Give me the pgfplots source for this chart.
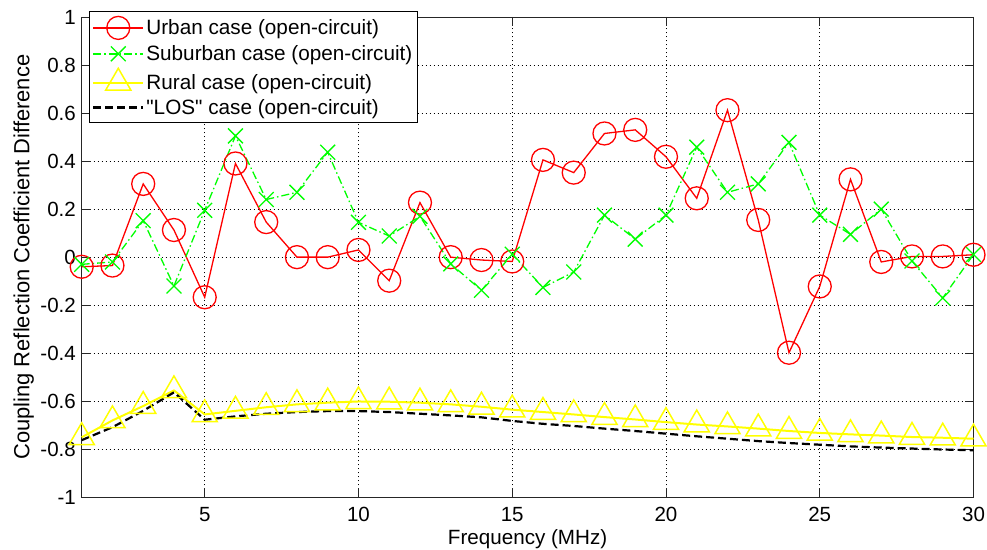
\documentclass[border=0pt]{standalone}
\usepackage{fontspec}
\setmainfont{Liberation Sans}
\usepackage{pgfplots}
\pgfplotsset{compat=1.18}
\definecolor{mred}{rgb}{1,0,0}
\definecolor{mgreen}{rgb}{0,1,0}
\definecolor{myellow}{rgb}{1,1,0}
\newcommand{\sq}{{\XeTeXglyph\XeTeXcharglyph"0022\relax}}
\begin{document}
\begin{tikzpicture}
\begin{axis}[name=ax, scale only axis, width=891.8bp, height=480.3bp,
  xmin=1, xmax=30, ymin=-1, ymax=1,
  xtick={5,10,15,20,25,30}, xticklabels={5,10,15,20,25,30},
  ytick={-1,-0.8,-0.6,-0.4,-0.2,0,0.2,0.4,0.6,0.8,1},
  yticklabels={-1,-0.8,-0.6,-0.4,-0.2,0,0.2,0.4,0.6,0.8,1},
  grid=major,
  major grid style={black, line width=0.6bp, dash pattern=on 1bp off 3bp},
  tick align=inside, major tick length=9bp,
  tick style={black!85, line width=0.8bp},
  axis line style={black!85, line width=0.8bp},
  tick label style={font=\fontsize{20.6}{24}\selectfont},
  xticklabel style={inner sep=0pt, yshift=-9.7bp},
  yticklabel style={inner sep=0pt, xshift=-5.7bp},
  xlabel={Frequency (MHz)},
  ylabel={Coupling Reflection Coefficient Difference},
  xlabel style={at={(axis description cs:0.5,0)}, anchor=north, yshift=-32bp, inner sep=0pt, font=\fontsize{20.7}{24}\selectfont},
  ylabel style={at={(axis description cs:-0.0587,0.5)}, anchor=base, inner sep=0pt, font=\fontsize{22}{26}\selectfont},
  clip=false,
  legend cell align=left,
  legend image code/.code={\draw[mark repeat=2,mark phase=2] plot coordinates {(0bp,0bp)(25bp,0bp)(50bp,0bp)};},
  legend style={at={(axis description cs:0.0085,1.0125)}, anchor=north west,
    draw=black, line width=0.8bp, fill=white, inner xsep=2.5bp, inner ysep=5bp, row sep=4.2bp,
    font=\fontsize{20.8}{25}\selectfont,
    nodes={inner sep=2bp}},
]
\addplot[mred, line width=1.3bp, mark=o, mark size=11.5bp, mark options={solid, line width=1.3bp}] coordinates {
(1,-0.04)(2,-0.035)(3,0.305)(4,0.113)(5,-0.167)(6,0.39)(7,0.146)(8,0.0)(9,0.0)(10,0.03)
(11,-0.098)(12,0.227)(13,0.0)(14,-0.012)(15,-0.018)(16,0.405)(17,0.352)(18,0.515)(19,0.53)(20,0.418)
(21,0.245)(22,0.612)(23,0.155)(24,-0.398)(25,-0.122)(26,0.324)(27,-0.02)(28,0.003)(29,0.003)(30,0.01)};
\addlegendentry{Urban case (open-circuit)}
\addplot[mgreen, line width=1.3bp, dash pattern=on 8bp off 3bp on 1.5bp off 3bp, mark=x, mark size=10.5bp, mark options={solid, line width=1.3bp}] coordinates {
(1,-0.03)(2,-0.02)(3,0.152)(4,-0.12)(5,0.195)(6,0.505)(7,0.24)(8,0.27)(9,0.437)(10,0.145)
(11,0.088)(12,0.17)(13,-0.028)(14,-0.138)(15,0.012)(16,-0.126)(17,-0.062)(18,0.175)(19,0.075)(20,0.175)
(21,0.458)(22,0.27)(23,0.305)(24,0.478)(25,0.175)(26,0.095)(27,0.2)(28,-0.016)(29,-0.17)(30,0.011)};
\addlegendentry{Suburban case (open-circuit)}
\addplot[myellow, line width=2bp, mark=triangle, mark size=14.5bp, mark options={solid, line width=1.5bp}] coordinates {
(1,-0.75)(2,-0.68)(3,-0.62)(4,-0.555)(5,-0.655)(6,-0.64)(7,-0.625)(8,-0.613)(9,-0.606)(10,-0.601)
(11,-0.602)(12,-0.606)(13,-0.613)(14,-0.623)(15,-0.635)(16,-0.645)(17,-0.655)(18,-0.666)(19,-0.676)(20,-0.687)
(21,-0.697)(22,-0.705)(23,-0.714)(24,-0.724)(25,-0.732)(26,-0.738)(27,-0.743)(28,-0.749)(29,-0.752)(30,-0.756)};
\addlegendentry{Rural case (open-circuit)}
\addplot[black, line width=2.2bp, dash pattern=on 8bp off 4bp] coordinates {
(1,-0.762)(2,-0.708)(3,-0.64)(4,-0.563)(5,-0.677)(6,-0.663)(7,-0.652)(8,-0.645)(9,-0.641)(10,-0.641)
(11,-0.645)(12,-0.652)(13,-0.659)(14,-0.667)(15,-0.682)(16,-0.694)(17,-0.703)(18,-0.714)(19,-0.724)(20,-0.735)
(21,-0.746)(22,-0.756)(23,-0.766)(24,-0.774)(25,-0.781)(26,-0.788)(27,-0.793)(28,-0.797)(29,-0.801)(30,-0.804)};
\addlegendentry{\sq LOS\sq{} case (open-circuit)}
\end{axis}
\pgfresetboundingbox
\path[use as bounding box] ([shift={(-81.7bp,-52.7bp)}]ax.south west) rectangle ([shift={(13.5bp,17bp)}]ax.north east);
\end{tikzpicture}
\end{document}
